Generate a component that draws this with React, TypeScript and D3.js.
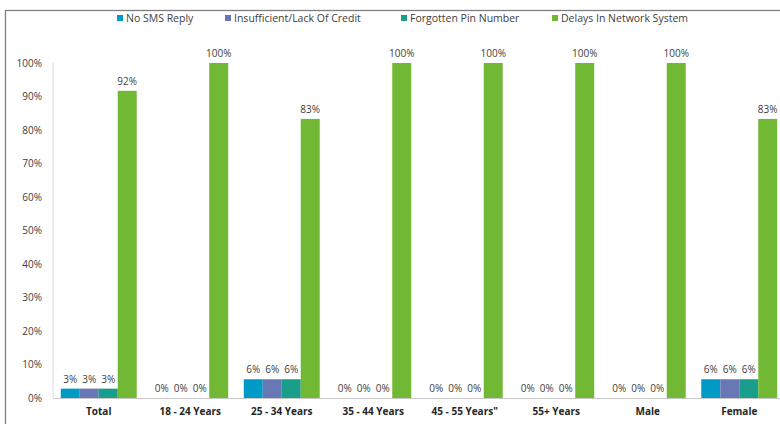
import React from "react";
import * as d3 from "d3";

const categories = ["Total", "18 - 24 Years", "25 - 34 Years", "35 - 44 Years", "45 - 55 Years\"", "55+ Years", "Male", "Female"];
const seriesNames = ["No SMS Reply", "Insufficient/Lack Of Credit", "Forgotten Pin Number", "Delays In Network System"];
const noSms = [2.8, 0, 5.6, 0, 0, 0, 0, 5.6];
const lackCredit = [2.8, 0, 5.6, 0, 0, 0, 0, 5.6];
const forgottenPin = [2.8, 0, 5.6, 0, 0, 0, 0, 5.6];
const delays = [91.7, 100, 83.3, 100, 100, 100, 100, 83.3];
const yTicks = [0, 10, 20, 30, 40, 50, 60, 70, 80, 90, 100];
const colors = ["#009ac7", "#6878b4", "#189e8a", "#71b835"];
const legendX = [117, 225, 401, 552];

export default function App() {
  const W = 780, H = 424;
  const left = 53, right = 785, top = 63, bottom = 398;
  const series = [noSms, lackCredit, forgottenPin, delays];
  const x0 = d3.scaleBand<string>().domain(categories).range([left, right]).paddingInner(0.17).paddingOuter(0.085);
  const x1 = d3.scaleBand<number>().domain([0, 1, 2, 3]).range([0, x0.bandwidth()]).padding(0);
  const y = d3.scaleLinear().domain([0, 100]).range([bottom, top]);
  const fmt = d3.format(".0f");
  const font = "'Open Sans', 'Noto Sans', sans-serif";
  return (
    <svg width={W} height={H} style={{ position: "absolute", left: 0, top: 0, background: "#fff" }} fontFamily={font}>
      <rect x={5.5} y={10.5} width={900} height={600} fill="none" stroke="#7f7f7f" strokeWidth={1.3} />
      {seriesNames.map((n, i) => (
        <g key={n}>
          <rect x={legendX[i]} y={15} width={6} height={6} fill={colors[i]} />
          <text x={legendX[i] + 9} y={21.5} fontSize={10.5} fill="#404040">{n}</text>
        </g>
      ))}
      <line x1={left} x2={left} y1={top} y2={bottom} stroke="#d9d9d9" />
      {yTicks.map((t) => (
        <text key={t} x={42} y={y(t) + 3.5} fontSize={10} textAnchor="end" fill="#404040">{t}%</text>
      ))}
      {categories.map((c, ci) => (
        <g key={c} transform={`translate(${x0(c)},0)`}>
          {series.map((s, si) => {
            const v = s[ci];
            const bx = x1(si)!;
            const bw = x1.bandwidth();
            return (
              <g key={si}>
                <rect x={bx} y={y(v)} width={bw} height={bottom - y(v)} fill={colors[si]} />
                <text x={bx + bw / 2} y={y(v) - 6} fontSize={10} textAnchor="middle" fill="#404040">{fmt(v)}%</text>
              </g>
            );
          })}
          <text x={x0.bandwidth() / 2} y={415} fontSize={10} fontWeight="bold" textAnchor="middle" fill="#262626">{c}</text>
        </g>
      ))}
      <line x1={left} x2={W} y1={bottom + 0.5} y2={bottom + 0.5} stroke="#c8c8c8" strokeWidth={1.2} />
    </svg>
  );
}
